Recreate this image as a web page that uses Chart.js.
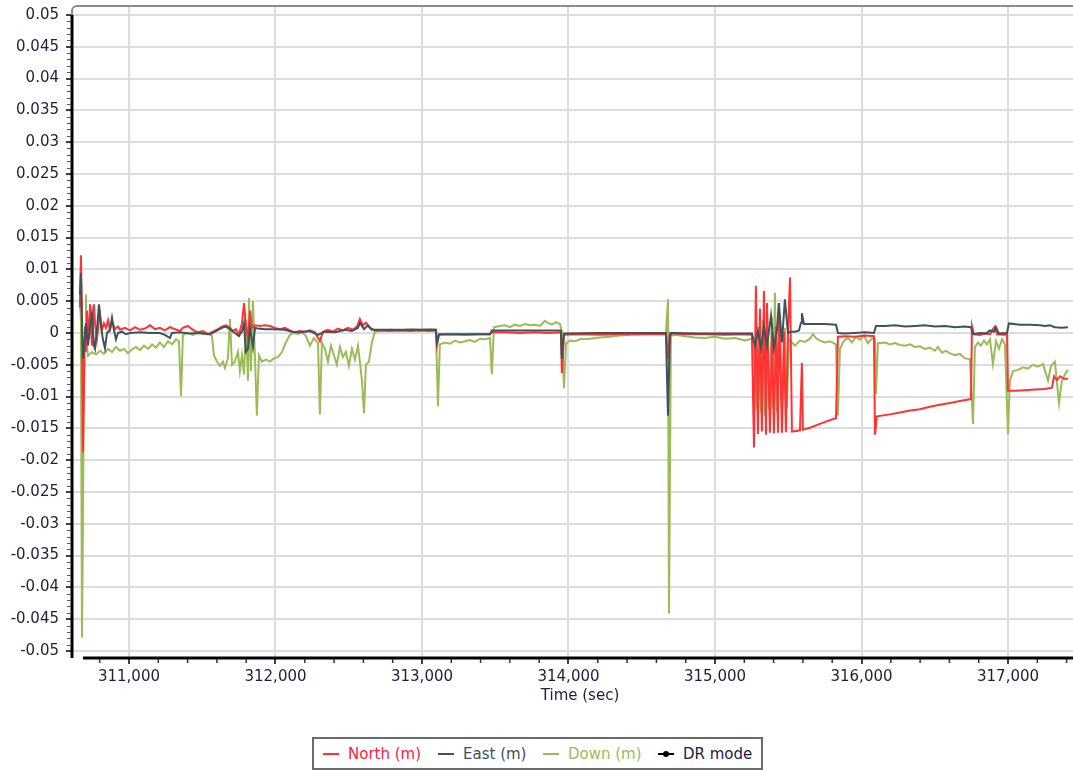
<!DOCTYPE html>
<html>
<head>
<meta charset="utf-8">
<script src="https://cdn.jsdelivr.net/npm/chart.js@4"></script>
<style>
  body { margin: 0; background: #fff; overflow: hidden; }
  #wrap { position: relative; width: 1073px; height: 772px; overflow: hidden; }
  #navChart { position: absolute; left: 0; top: 0; }
  #legend {
    position: absolute; left: 312px; top: 737px; width: 451px; height: 33px;
    box-sizing: border-box; border: 2px solid #6a6a6a; background: #fff;
    font-family: "DejaVu Sans", Verdana, sans-serif; font-size: 15px;
  }
  #legend .item { position: absolute; top: 0; height: 29px; display: flex; align-items: center; white-space: nowrap; }
  #legend svg { margin-right: 9px; }
</style>
</head>
<body>
<div id="wrap">
  <canvas id="navChart" width="1090" height="772" style="width:1090px;height:772px"></canvas>
  <div id="legend"></div>
</div>
<script>
// [time (sec), value (m)]
const northData = [
  [310665, 0.004], [310672, 0.0122], [310679, 0.002], [310686, -0.0188], [310693, -0.008], [310700, 0.001],
  [310706, -0.003], [310713, 0.0035], [310720, 0.001], [310727, -0.001], [310734, 0.0045], [310747, -0.002],
  [310761, 0.0045], [310768, 0.0015], [310781, -0.001], [310795, 0.002], [310802, 0.003], [310816, 0.0005],
  [310829, 0.0015], [310843, 0.0008], [310857, 0.002], [310870, 0.0005], [310884, 0.0018], [310904, 0.0006],
  [310925, 0.001], [310939, 0.0005], [310972, 0.0008], [311007, 0.0004], [311041, 0.0009], [311075, 0.0005],
  [311109, 0.0007], [311143, 0.0012], [311177, 0.0006], [311211, 0.0008], [311245, 0.0004], [311280, 0.0009],
  [311314, 0.0006], [311348, 0.0003], [311368, 0.0008], [311402, 0.0011], [311436, 0.0005], [311471, 0.0001],
  [311505, 0.0003], [311539, -0.0002], [311573, 0.0002], [311607, 0.0006], [311634, 0.001], [311662, 0.0012],
  [311689, 0.0008], [311709, 0.0003], [311730, 0.0006], [311750, -0.0003], [311771, 0.0015], [311785, 0.0047],
  [311798, 0.0012], [311812, -0.001], [311826, 0.0035], [311839, 0.0008], [311860, 0.0012], [311894, 0.0011],
  [311928, 0.0012], [311962, 0.0011], [311996, 0.0008], [312030, 0.0006], [312065, 0.0008], [312099, 0.0004],
  [312133, 0.0001], [312167, 0.0003], [312201, 0.0002], [312235, 0.0004], [312269, 0.0001], [312303, -0.0013],
  [312324, 0.0002], [312358, 0.0005], [312392, 0.0002], [312426, 0.0007], [312460, 0.0004], [312494, 0.0008],
  [312529, 0.0005], [312556, 0.001], [312576, 0.0022], [312597, 0.0012], [312617, 0.0016], [312645, 0.0008],
  [312679, 0.0004], [312713, 0.0004], [312781, 0.0003], [312849, 0.0004], [312918, 0.0003], [312986, 0.0004],
  [313054, 0.0003], [313095, 0.0004], [313102, -0.002], [313116, -0.0003], [313191, -0.0002], [313293, -0.0003],
  [313396, -0.0002], [313464, -0.0002], [313477, 0.0001], [313566, 0.0001], [313669, 0.0], [313771, 0.0001],
  [313860, 0.0], [313948, 0.0001], [313955, -0.0063], [313969, -0.0003], [314078, -0.0002], [314215, -0.0003],
  [314351, -0.0002], [314488, -0.0002], [314624, -0.0002], [314665, -0.0002], [314679, -0.004], [314692, 0.0],
  [314795, -0.0002], [314931, -0.0002], [315068, -0.0003], [315204, -0.0002], [315252, -0.0003],
  [315266, -0.018], [315279, 0.0074], [315293, -0.0159], [315307, 0.0038], [315320, -0.0155], [315334, 0.0066],
  [315348, -0.016], [315355, 0.0047], [315375, -0.0157], [315389, 0.0], [315402, -0.0158], [315416, 0.001],
  [315430, -0.0157], [315436, 0.0047], [315457, -0.0157], [315471, 0.0002], [315484, -0.0156], [315498, 0.0],
  [315512, 0.0087], [315525, -0.0155], [315553, -0.0154], [315580, -0.0153], [315593, -0.0047], [315600, -0.0152],
  [315648, -0.0149], [315716, -0.0143], [315785, -0.0137], [315826, -0.0134], [315839, -0.0006], [315887, -0.0005],
  [315955, -0.0006], [316024, -0.0004], [316085, -0.0005], [316092, -0.016], [316105, -0.0131], [316194, -0.0128],
  [316262, -0.0125], [316331, -0.0122], [316399, -0.012], [316467, -0.0116], [316535, -0.0113], [316604, -0.011],
  [316672, -0.0107], [316747, -0.0104], [316754, 0.0011], [316768, -0.0002], [316808, -0.0003], [316843, -0.0001],
  [316877, -0.0002], [316897, 0.0006], [316911, 0.001], [316925, -0.0002], [316966, -0.0003], [316993, -0.0003],
  [317000, -0.0091], [317047, -0.0091], [317116, -0.009], [317184, -0.0089], [317252, -0.0088], [317300, -0.0086],
  [317314, -0.0068], [317334, -0.0074], [317355, -0.0068], [317382, -0.0072], [317409, -0.0072]
];

const eastData = [
  [310665, 0.006], [310672, 0.0094], [310679, 0.002], [310686, -0.004], [310693, -0.0025], [310706, 0.0015],
  [310720, -0.002], [310734, 0.001], [310747, 0.003], [310761, -0.002], [310768, -0.0025], [310781, 0.0005],
  [310795, 0.0045], [310809, 0.001], [310822, -0.001], [310836, -0.0024], [310850, 0.0], [310870, 0.0005],
  [310884, 0.0024], [310897, 0.0005], [310911, -0.001], [310925, 0.0], [310952, 0.0002], [310979, -0.0002],
  [311007, 0.0], [311075, 0.0001], [311143, 0.0], [311211, 0.0], [311245, -0.0003], [311280, -0.0008],
  [311293, 0.0], [311348, 0.0001], [311416, -0.0001], [311484, 0.0], [311552, -0.0002], [311587, 0.0002],
  [311634, 0.0008], [311662, 0.001], [311689, 0.0006], [311723, 0.0], [311750, -0.0005], [311771, 0.0002],
  [311785, 0.0015], [311798, -0.003], [311812, -0.0025], [311826, 0.0008], [311846, -0.0022], [311860, 0.0008],
  [311880, 0.0007], [311928, 0.0006], [311996, 0.0006], [312065, 0.0005], [312112, 0.0002], [312167, 0.0001],
  [312235, 0.0003], [312290, -0.0003], [312337, 0.0002], [312406, 0.0001], [312474, 0.0005], [312522, 0.0003],
  [312563, 0.0008], [312576, 0.0016], [312604, 0.0006], [312631, 0.0012], [312658, 0.0005], [312713, 0.0005],
  [312849, 0.0005], [312986, 0.0005], [313095, 0.0005], [313102, -0.0015], [313116, -0.0002], [313259, -0.0002],
  [313464, -0.0002], [313477, 0.0004], [313669, 0.0004], [313948, 0.0004], [313955, -0.004], [313969, -0.0001],
  [314215, 0.0], [314488, 0.0], [314665, 0.0], [314679, -0.013], [314692, -0.0005], [314706, 0.0],
  [314897, -0.0001], [315252, -0.0001], [315273, -0.002], [315293, 0.0003], [315314, -0.0024], [315334, 0.001],
  [315355, -0.002], [315382, 0.0027], [315402, -0.0024], [315423, 0.0005], [315436, 0.0047], [315457, -0.0015],
  [315477, 0.0053], [315498, 0.0], [315518, 0.0002], [315546, 0.0002], [315573, 0.0004], [315587, 0.0016],
  [315593, 0.0031], [315607, 0.0014], [315682, 0.0014], [315750, 0.0014], [315826, 0.0013], [315839, 0.0],
  [315887, -0.0001], [315955, 0.0], [316024, 0.0001], [316085, 0.0], [316099, 0.0011], [316160, 0.0011],
  [316228, 0.0012], [316297, 0.001], [316365, 0.0011], [316433, 0.0012], [316501, 0.001], [316570, 0.0011],
  [316638, 0.0009], [316706, 0.001], [316747, 0.0009], [316761, -0.0002], [316808, 0.0], [316849, -0.0001],
  [316877, 0.0004], [316904, 0.0002], [316918, 0.0009], [316938, -0.0001], [316993, 0.0], [317006, 0.0015],
  [317082, 0.0013], [317150, 0.0013], [317218, 0.0012], [317252, 0.0011], [317286, 0.0012], [317320, 0.0009],
  [317368, 0.0008], [317409, 0.0009]
];

const downData = [
  [310665, 0.0055], [310672, 0.002], [310679, -0.0479], [310686, -0.03], [310693, -0.003], [310700, 0.0],
  [310706, 0.0061], [310713, -0.002], [310720, -0.0036], [310747, -0.003], [310775, -0.0034], [310802, -0.0028],
  [310829, -0.0033], [310857, -0.0025], [310884, -0.003], [310911, -0.0022], [310939, -0.0028], [310966, -0.0025],
  [310993, -0.0032], [311020, -0.0026], [311048, -0.0022], [311075, -0.0027], [311102, -0.002], [311130, -0.0025],
  [311157, -0.0018], [311184, -0.0023], [311211, -0.0015], [311239, -0.0022], [311266, -0.0013], [311293, -0.0018],
  [311321, -0.001], [311341, -0.0013], [311355, -0.0099], [311368, -0.0003], [311402, 0.0], [311436, -0.0003],
  [311471, 0.0001], [311505, -0.0002], [311539, -0.0001], [311566, -0.0004], [311580, -0.0035], [311600, -0.0045],
  [311621, -0.0052], [311641, -0.0045], [311655, -0.0055], [311675, -0.004], [311689, 0.0022], [311703, -0.005],
  [311723, -0.0045], [311744, -0.003], [311757, -0.006], [311771, -0.0035], [311785, -0.0065], [311798, 0.002],
  [311812, -0.0075], [311819, 0.0055], [311832, -0.006], [311846, 0.005], [311860, -0.004], [311873, -0.013],
  [311887, -0.0035], [311907, -0.0045], [311935, -0.0042], [311962, -0.0045], [311989, -0.004], [312017, -0.0038],
  [312044, -0.003], [312071, -0.0015], [312099, -0.0003], [312126, 0.0], [312153, -0.0002], [312180, 0.0001],
  [312208, -0.0005], [312235, -0.002], [312262, -0.0008], [312290, -0.0016], [312303, -0.0128], [312317, -0.0015],
  [312337, -0.0025], [312358, -0.0045], [312378, -0.002], [312399, -0.0035], [312419, -0.005], [312440, -0.0022],
  [312460, -0.0038], [312481, -0.003], [312501, -0.0052], [312522, -0.0025], [312542, -0.0042], [312563, -0.002],
  [312576, -0.0045], [312590, -0.0075], [312604, -0.0126], [312617, -0.005], [312638, -0.0045], [312658, -0.0015],
  [312679, 0.0002], [312713, 0.0003], [312781, 0.0005], [312849, 0.0004], [312918, 0.0006], [312986, 0.0005],
  [313054, 0.0006], [313095, 0.0005], [313109, -0.0115], [313122, -0.0018], [313157, -0.0015], [313191, -0.0017],
  [313225, -0.0012], [313259, -0.0015], [313293, -0.0013], [313327, -0.0011], [313361, -0.0014], [313396, -0.0009],
  [313430, -0.001], [313464, -0.0008], [313477, -0.0065], [313491, 0.0009], [313532, 0.0011], [313566, 0.0012],
  [313600, 0.0009], [313634, 0.0013], [313669, 0.0011], [313703, 0.0014], [313737, 0.0012], [313771, 0.0013],
  [313805, 0.0011], [313839, 0.0019], [313860, 0.0016], [313887, 0.0013], [313914, 0.0017], [313942, 0.0014],
  [313955, 0.0002], [313969, -0.0087], [313983, -0.0016], [314010, -0.0012], [314044, -0.0013], [314078, -0.001],
  [314147, -0.0009], [314215, -0.0007], [314283, -0.0006], [314351, -0.0004], [314419, -0.0003], [314488, -0.0002],
  [314556, -0.0001], [314624, 0.0], [314665, 0.0], [314679, 0.0053], [314686, -0.0441], [314699, -0.0005],
  [314727, -0.0003], [314795, -0.0005], [314863, -0.0007], [314931, -0.0008], [315000, -0.0006], [315068, -0.0009],
  [315136, -0.0008], [315204, -0.0012], [315252, -0.0009], [315266, -0.003], [315286, -0.012], [315300, 0.001],
  [315314, -0.0125], [315327, 0.002], [315341, -0.013], [315355, 0.0033], [315368, -0.012], [315389, 0.0025],
  [315395, -0.0118], [315409, 0.0063], [315423, -0.0125], [315443, 0.003], [315457, -0.012], [315477, 0.0008],
  [315491, -0.0118], [315505, -0.001], [315525, -0.0015], [315546, -0.002], [315580, -0.0012], [315614, -0.0014],
  [315648, -0.0009], [315669, -0.0002], [315689, -0.0008], [315716, -0.0012], [315750, -0.0015], [315785, -0.0013],
  [315826, -0.0018], [315839, -0.013], [315853, -0.0025], [315880, -0.0012], [315907, -0.0008], [315935, -0.0015],
  [315962, -0.0006], [315989, -0.0011], [316017, -0.0004], [316044, -0.0016], [316071, -0.0009], [316092, -0.001],
  [316099, -0.0096], [316112, -0.0016], [316160, -0.0015], [316194, -0.0018], [316228, -0.0016], [316262, -0.0019],
  [316297, -0.002], [316331, -0.0018], [316365, -0.0022], [316399, -0.0021], [316433, -0.0025], [316467, -0.0023],
  [316501, -0.0028], [316522, -0.0022], [316549, -0.0031], [316576, -0.0028], [316604, -0.0032], [316638, -0.0035],
  [316672, -0.0033], [316706, -0.004], [316740, -0.0041], [316761, -0.0143], [316774, -0.0022], [316795, -0.0015],
  [316815, -0.002], [316836, -0.0012], [316856, -0.0018], [316877, -0.001], [316897, -0.0049], [316918, -0.0013],
  [316938, -0.0025], [316959, -0.001], [316979, -0.0018], [317000, -0.0159], [317013, -0.0075], [317034, -0.006],
  [317068, -0.0058], [317102, -0.0054], [317136, -0.0056], [317170, -0.005], [317204, -0.0053], [317239, -0.0049],
  [317273, -0.0075], [317293, -0.0052], [317320, -0.0045], [317348, -0.011], [317368, -0.0075], [317389, -0.0065],
  [317409, -0.0058]
];

const drModeData = [];

const seriesLabels = ["North (m)", "East (m)", "Down (m)", "DR mode"];
const xTicks = [311000, 312000, 313000, 314000, 315000, 316000, 317000];
const yTicks = [0.05, 0.045, 0.04, 0.035, 0.03, 0.025, 0.02, 0.015, 0.01, 0.005, 0,
  -0.005, -0.01, -0.015, -0.02, -0.025, -0.03, -0.035, -0.04, -0.045, -0.05];

const lineColors = ["#ff3333", "#3f535e", "#9bbb59", "#000000"];
const textColors = ["#ff2040", "#3e4e62", "#9bbb59", "#1c1c40"];
const tickText = "#1e1e3a";

const toPoints = (arr) => arr.map(([t, v]) => ({ x: t, y: v }));

// legend (html, boxed like the original)
const legendLeft = [9, 124, 229, 344];
const legendEl = document.getElementById("legend");
seriesLabels.forEach((label, i) => {
  const item = document.createElement("div");
  item.className = "item";
  item.style.left = legendLeft[i] + "px";
  item.style.color = textColors[i];
  const dot = i === 3 ? '<circle cx="8" cy="5" r="3" fill="' + lineColors[i] + '"/>' : "";
  item.innerHTML = '<svg width="16" height="10"><line x1="0" y1="5" x2="16" y2="5" stroke="' +
    lineColors[i] + '" stroke-width="2"/>' + dot + "</svg><span>" + label + "</span>";
  legendEl.appendChild(item);
});

// frame, thick black axes and minor ticks
const axisFrame = {
  id: "axisFrame",
  afterDraw(chart) {
    const { ctx, chartArea: a, scales: { x, y } } = chart;
    ctx.save();
    ctx.strokeStyle = "#8a8a8a";
    ctx.lineWidth = 2;
    ctx.beginPath();
    ctx.moveTo(a.left, a.bottom);
    ctx.lineTo(a.left, a.top + 5);
    ctx.arcTo(a.left, a.top, a.left + 5, a.top, 5);
    ctx.lineTo(a.right, a.top);
    ctx.stroke();

    ctx.strokeStyle = "#000";
    ctx.lineWidth = 3;
    ctx.beginPath();
    ctx.moveTo(a.left, y.getPixelForValue(yTicks[0]));
    ctx.lineTo(a.left, a.bottom);
    ctx.moveTo(x.getPixelForValue(northData[0][0]) + 3, a.bottom);
    ctx.lineTo(a.right, a.bottom);
    ctx.stroke();

    ctx.lineWidth = 1;
    ctx.strokeStyle = "#555";
    ctx.beginPath();
    for (let k = -50; k <= 50; k++) {
      if (k % 5 === 0) continue;
      const py = Math.round(y.getPixelForValue(k / 1000)) + 0.5;
      ctx.moveTo(a.left - 5, py);
      ctx.lineTo(a.left - 1, py);
    }
    ctx.stroke();
    ctx.strokeStyle = "#333";
    ctx.lineWidth = 1.5;
    ctx.beginPath();
    for (let t = 310800; t < x.max; t += 200) {
      if (t % 1000 === 0) continue;
      const px = x.getPixelForValue(t);
      ctx.moveTo(px, a.bottom + 1);
      ctx.lineTo(px, a.bottom + 5);
    }
    ctx.stroke();
    ctx.restore();
  }
};

Chart.defaults.font.family = '"DejaVu Sans", Verdana, sans-serif';
Chart.defaults.font.size = 15;
Chart.defaults.color = tickText;

new Chart(document.getElementById("navChart"), {
  type: "line",
  data: {
    datasets: [
      { label: seriesLabels[0], data: toPoints(northData), borderColor: lineColors[0], order: 1 },
      { label: seriesLabels[1], data: toPoints(eastData), borderColor: lineColors[1], order: 0 },
      { label: seriesLabels[2], data: toPoints(downData), borderColor: lineColors[2], order: 2 },
      { label: seriesLabels[3], data: toPoints(drModeData), borderColor: lineColors[3], order: 3 }
    ]
  },
  options: {
    responsive: false,
    animation: false,
    devicePixelRatio: 1,
    layout: { padding: { left: 0, top: 6, right: 2, bottom: 63 } },
    elements: {
      line: { borderWidth: 2, tension: 0 },
      point: { radius: 0 }
    },
    plugins: { legend: { display: false }, tooltip: { enabled: false } },
    scales: {
      x: {
        type: "linear",
        min: 310611,
        max: 317546,
        afterBuildTicks: (axis) => { axis.ticks = xTicks.map((v) => ({ value: v })); },
        afterFit: (axis) => { axis.height = 51; axis.paddingLeft = 0; axis.paddingRight = 0; },
        ticks: {
          color: tickText,
          padding: 4,
          maxRotation: 0,
          callback: (v) => v.toLocaleString("en-US")
        },
        grid: { color: "#dcdcdc", lineWidth: 2, drawTicks: true, tickLength: 6, tickColor: "#000", tickWidth: 1.5 },
        border: { display: false },
        title: { display: true, text: "Time (sec)", color: tickText, padding: { top: 0, bottom: 4 } }
      },
      y: {
        min: -0.0511,
        max: 0.0514,
        afterBuildTicks: (axis) => { axis.ticks = yTicks.map((v) => ({ value: v })); },
        afterFit: (axis) => { axis.width = 72; axis.paddingTop = 0; axis.paddingBottom = 0; },
        ticks: { color: tickText, padding: 7, callback: (v) => String(v) },
        grid: { color: "#dcdcdc", lineWidth: 2, drawTicks: true, tickLength: 6, tickColor: "#000", tickWidth: 1.5 },
        border: { display: false }
      }
    }
  },
  plugins: [axisFrame]
});
</script>
</body>
</html>
